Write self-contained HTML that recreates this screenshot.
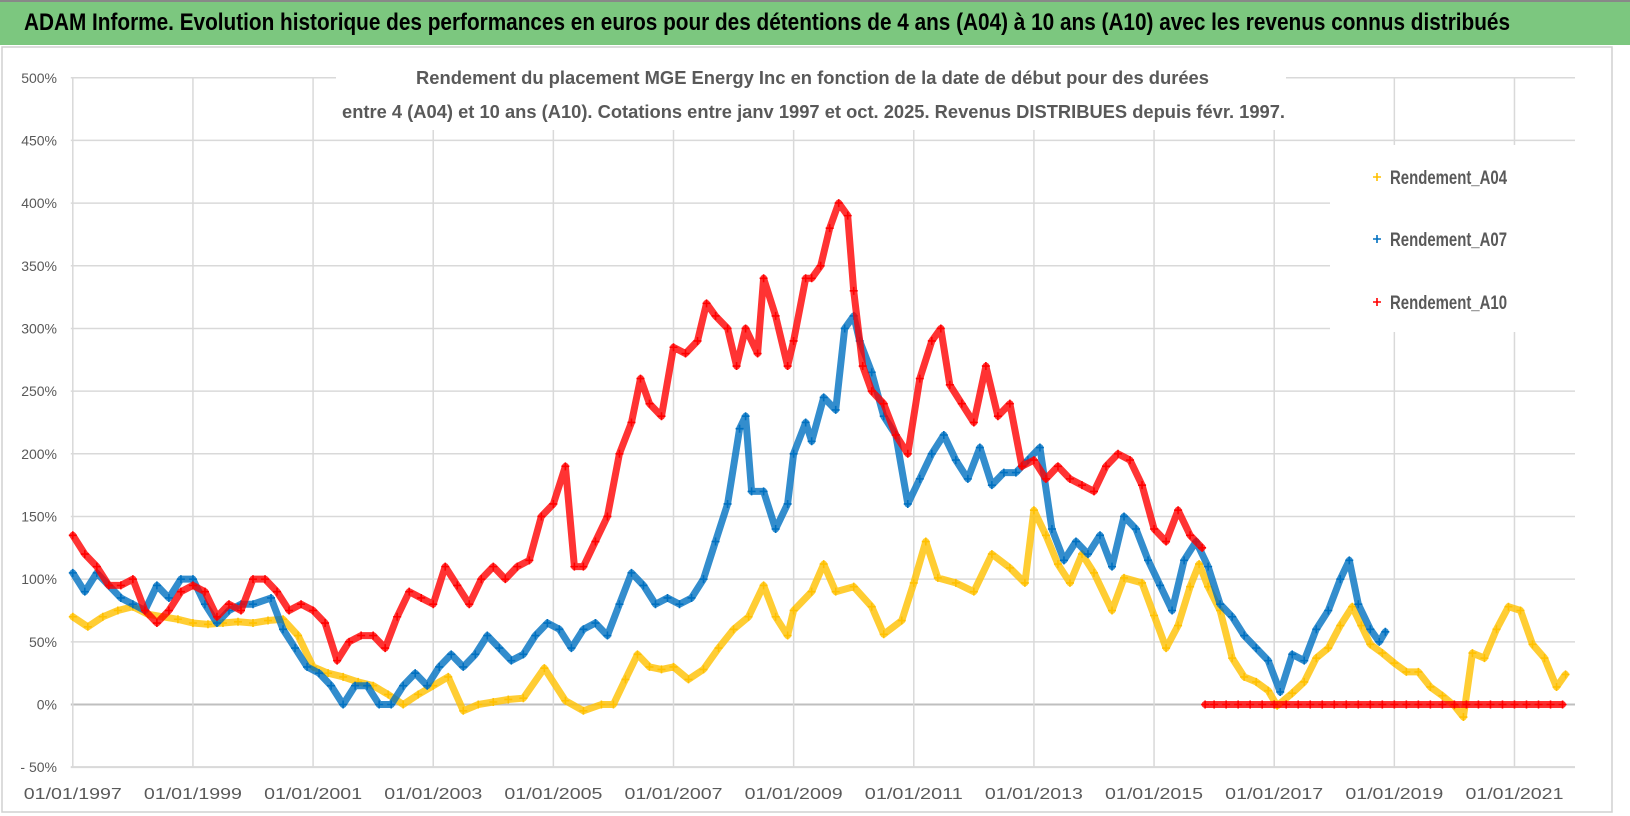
<!DOCTYPE html>
<html><head><meta charset="utf-8"><style>
html,body{margin:0;padding:0;background:#fff;width:1630px;height:816px;overflow:hidden}
svg{display:block;font-family:"Liberation Sans",sans-serif}
</style></head><body>
<svg id="chart" width="1630" height="816" viewBox="0 0 1630 816" xmlns="http://www.w3.org/2000/svg">
<rect x="0" y="0" width="1630" height="816" fill="#fff"/>
<g>
<rect x="0" y="0" width="1630" height="45" fill="#7CC77F"/>
<line x1="0" y1="1" x2="1630" y2="1" stroke="#888" stroke-width="2"/>
<text x="24" y="30" font-size="24" font-weight="bold" fill="#000" textLength="1486" lengthAdjust="spacingAndGlyphs">ADAM Informe. Evolution historique des performances en euros pour des détentions de 4 ans (A04) à 10 ans (A10) avec les revenus connus distribués</text>
</g>
<rect x="2" y="47" width="1610" height="765" fill="none" stroke="#d0d0d0" stroke-width="1.5"/>
<g id="grid"></g>
<g id="yticks"></g>
<g id="xticks"></g>
<g id="series"></g>
<g>
<rect x="336" y="50" width="950" height="80" fill="#fff"/>
<text x="416" y="84" font-size="18" font-weight="bold" fill="#595959" textLength="793" lengthAdjust="spacingAndGlyphs">Rendement du placement MGE Energy Inc en fonction de la date de début pour des durées</text>
<text x="342" y="118" font-size="18" font-weight="bold" fill="#595959" textLength="943" lengthAdjust="spacingAndGlyphs">entre 4 (A04) et 10 ans (A10). Cotations entre janv 1997 et oct. 2025. Revenus DISTRIBUES depuis févr. 1997.</text>
</g>
<g>
<rect x="1330" y="145" width="260" height="187" fill="#fff"/>
<g>
<path d="M1373 177h8M1377 173v8" stroke="#FFC000" stroke-width="1.6"/>
<text x="1390" y="184" font-size="19" font-weight="bold" fill="#595959" textLength="117" lengthAdjust="spacingAndGlyphs">Rendement_A04</text></g>
<g>
<path d="M1373 239h8M1377 235v8" stroke="#0070C0" stroke-width="1.6"/>
<text x="1390" y="246" font-size="19" font-weight="bold" fill="#595959" textLength="117" lengthAdjust="spacingAndGlyphs">Rendement_A07</text></g>
<g>
<path d="M1373 302h8M1377 298v8" stroke="#FF0000" stroke-width="1.6"/>
<text x="1390" y="309" font-size="19" font-weight="bold" fill="#595959" textLength="117" lengthAdjust="spacingAndGlyphs">Rendement_A10</text></g>
</g>
</svg>
<script>
const yTicks=[-50,0,50,100,150,200,250,300,350,400,450,500];
const xTickYears=[1997,1999,2001,2003,2005,2007,2009,2011,2013,2015,2017,2019,2021];
const a04Dates=[1997.0,1997.25,1997.5,1997.75,1998.0,1998.25,1998.5,1998.75,1999.0,1999.25,1999.5,1999.75,2000.0,2000.25,2000.5,2000.75,2001.0,2001.25,2001.5,2001.75,2002.0,2002.25,2002.5,2002.75,2003.0,2003.25,2003.5,2003.75,2004.0,2004.25,2004.5,2004.85,2005.2,2005.5,2005.8,2006.0,2006.2,2006.4,2006.6,2006.8,2007.0,2007.25,2007.5,2007.75,2008.0,2008.25,2008.5,2008.7,2008.9,2009.0,2009.3,2009.5,2009.7,2010.0,2010.3,2010.5,2010.8,2011.0,2011.2,2011.4,2011.7,2012.0,2012.3,2012.6,2012.85,2013.0,2013.2,2013.4,2013.6,2013.8,2014.0,2014.3,2014.5,2014.8,2015.0,2015.2,2015.4,2015.6,2015.75,2015.9,2016.1,2016.3,2016.5,2016.7,2016.9,2017.05,2017.3,2017.5,2017.7,2017.9,2018.1,2018.3,2018.45,2018.6,2018.8,2019.0,2019.2,2019.4,2019.6,2019.8,2020.0,2020.15,2020.3,2020.5,2020.7,2020.9,2021.1,2021.3,2021.5,2021.7,2021.85];
const a04Values=[70,62,70,75,78,72,70,68,65,64,65,66,65,67,68,55,30,25,22,18,15,8,0,8,15,22,-5,0,2,4,5,29,3,-5,0,0,20,40,30,28,30,20,28,45,60,70,95,70,55,75,90,112,90,94,78,56,67,97,130,101,97,90,120,109,97,155,135,112,97,120,105,75,101,97,71,45,63,94,112,94,75,37,22,18,11,-1,9,18,37,45,63,78,63,48,41,33,26,26,14,7,-1,-10,41,37,60,78,75,48,37,14,24];
const a07Dates=[1997.0,1997.2,1997.4,1997.6,1997.8,1998.0,1998.2,1998.4,1998.6,1998.8,1999.0,1999.2,1999.4,1999.6,1999.8,2000.0,2000.3,2000.5,2000.7,2000.9,2001.1,2001.3,2001.5,2001.7,2001.9,2002.1,2002.3,2002.5,2002.7,2002.9,2003.1,2003.3,2003.5,2003.7,2003.9,2004.1,2004.3,2004.5,2004.7,2004.9,2005.1,2005.3,2005.5,2005.7,2005.9,2006.1,2006.3,2006.5,2006.7,2006.9,2007.1,2007.3,2007.5,2007.7,2007.9,2008.1,2008.2,2008.3,2008.5,2008.7,2008.9,2009.0,2009.2,2009.3,2009.5,2009.7,2009.85,2010.0,2010.1,2010.3,2010.5,2010.7,2010.9,2011.1,2011.3,2011.5,2011.7,2011.9,2012.1,2012.3,2012.5,2012.7,2012.9,2013.1,2013.3,2013.5,2013.7,2013.9,2014.1,2014.3,2014.5,2014.7,2014.9,2015.1,2015.3,2015.5,2015.7,2015.9,2016.1,2016.3,2016.5,2016.7,2016.9,2017.1,2017.3,2017.5,2017.7,2017.9,2018.1,2018.25,2018.4,2018.6,2018.75,2018.85];
const a07Values=[105,90,105,95,85,80,75,95,85,100,100,80,65,75,80,80,85,60,45,30,25,15,0,15,15,0,0,15,25,15,30,40,30,40,55,45,35,40,55,65,60,45,60,65,55,80,105,95,80,85,80,85,100,130,160,220,230,170,170,140,160,200,225,210,245,235,300,310,290,265,230,215,160,180,200,215,195,180,205,175,185,185,195,205,140,115,130,120,135,110,150,140,115,95,75,115,130,110,80,70,55,45,35,10,40,35,60,75,100,115,80,60,50,58];
const a10Dates=[1997.0,1997.2,1997.4,1997.6,1997.8,1998.0,1998.2,1998.4,1998.6,1998.8,1999.0,1999.2,1999.4,1999.6,1999.8,2000.0,2000.2,2000.4,2000.6,2000.8,2001.0,2001.2,2001.4,2001.6,2001.8,2002.0,2002.2,2002.4,2002.6,2002.8,2003.0,2003.2,2003.4,2003.6,2003.8,2004.0,2004.2,2004.4,2004.6,2004.8,2005.0,2005.2,2005.35,2005.5,2005.7,2005.9,2006.1,2006.3,2006.45,2006.6,2006.8,2007.0,2007.2,2007.4,2007.55,2007.7,2007.9,2008.05,2008.2,2008.4,2008.5,2008.7,2008.9,2009.0,2009.2,2009.3,2009.45,2009.6,2009.75,2009.9,2010.0,2010.15,2010.3,2010.5,2010.7,2010.9,2011.1,2011.3,2011.45,2011.6,2011.8,2012.0,2012.2,2012.4,2012.6,2012.8,2013.0,2013.2,2013.4,2013.6,2013.8,2014.0,2014.2,2014.4,2014.6,2014.8,2015.0,2015.2,2015.4,2015.6,2015.8,2015.85,2016.0,2016.2,2016.4,2016.6,2016.8,2017.0,2017.2,2017.4,2017.6,2017.8,2018.0,2018.2,2018.4,2018.6,2018.8,2019.0,2019.2,2019.4,2019.6,2019.8,2020.0,2020.2,2020.4,2020.6,2020.8,2021.0,2021.2,2021.4,2021.6,2021.8,2022.0];
const a10Values=[135,120,110,95,95,100,75,65,75,90,95,90,70,80,75,100,100,90,75,80,75,65,35,50,55,55,45,70,90,85,80,110,95,80,100,110,100,110,115,150,160,190,110,110,130,150,200,225,260,240,230,285,280,290,320,310,300,270,300,280,340,310,270,290,340,340,350,380,400,390,330,270,250,240,215,200,260,290,300,255,240,225,270,230,240,190,195,180,190,180,175,170,190,200,195,175,140,130,155,135,125,0,0,0,0,0,0,0,0,0,0,0,0,0,0,0,0,0,0,0,0,0,0,0,0,0,0,0,0,0,0,0];

const NS='http://www.w3.org/2000/svg';
const X0=72.8, PXY=60.07, Y0=704.5, PXP=1.2535, XR=1575;
function xScale(yr){return X0+(yr-1997)*PXY;}
function yScale(p){return Y0-p*PXP;}
function mk(tag,attrs,parent){const e=document.createElementNS(NS,tag);for(const k in attrs)e.setAttribute(k,attrs[k]);parent.appendChild(e);return e;}
const grid=document.getElementById('grid'),yt=document.getElementById('yticks'),xt=document.getElementById('xticks'),ser=document.getElementById('series');
yTicks.forEach(v=>{
  const y=yScale(v);
  const l=mk('line',{x1:X0-2,x2:XR,y1:y,y2:y,stroke:v===0?'#bfbfbf':'#d9d9d9','stroke-width':v===0?2:1.5},grid);
  
  
  const t=mk('text',{x:57,y:y+5,'text-anchor':'end','font-size':14,fill:'#595959'},yt);
  t.textContent=(v<0?'- '+(-v):v)+'%';
  
  
});
xTickYears.forEach(yr=>{
  const x=xScale(yr);
  const l=mk('line',{x1:x,x2:x,y1:yScale(500),y2:yScale(-50),stroke:'#d9d9d9','stroke-width':1.5},grid);
  
  
  const t=mk('text',{x:x,y:799,'text-anchor':'middle','font-size':16,fill:'#595959',textLength:98,lengthAdjust:'spacingAndGlyphs'},xt);
  t.textContent='01/01/'+yr;
  
  
});
const ax=mk('line',{x1:X0-2,x2:XR,y1:yScale(-50),y2:yScale(-50),stroke:'#d9d9d9','stroke-width':2},grid);


function drawSeries(dates,vals,color,name){
  const g=mk('g',{},ser);
  
  
  // split into segments where the value jumps abruptly (scatter has no connecting marks there)
  const segs=[[]];
  dates.forEach((d,i)=>{
    if(i>0 && Math.abs(vals[i]-vals[i-1])>100) segs.push([]);
    segs[segs.length-1].push(xScale(d).toFixed(1)+','+yScale(vals[i]).toFixed(1));
  });
  segs.forEach(s=>{
    const pl=mk('polyline',{points:s.join(' '),fill:'none',stroke:color,'stroke-width':7,'stroke-linejoin':'round','stroke-linecap':'round',opacity:0.8},g);
    
    
  });
  dates.forEach((d,i)=>{
    const x=xScale(d),y=yScale(vals[i]);
    const p=mk('path',{d:`M${x-4} ${y}h8M${x} ${y-4}v8`,stroke:color,'stroke-width':1.6},g);
    
    
  });
}
drawSeries(a04Dates,a04Values,'#FFC000','series-a04');
drawSeries(a07Dates,a07Values,'#0070C0','series-a07');
drawSeries(a10Dates,a10Values,'#FF0000','series-a10');
</script>
</body></html>
